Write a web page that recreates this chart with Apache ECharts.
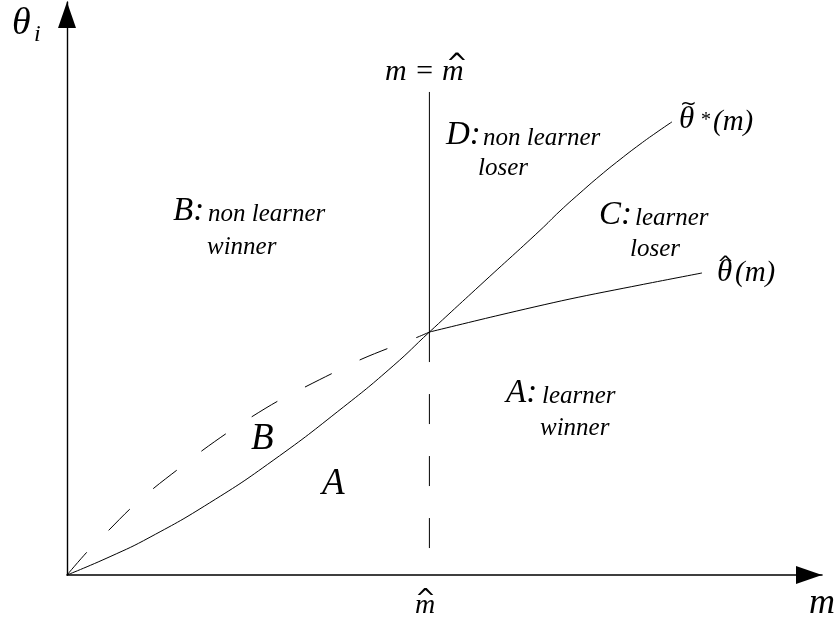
<!DOCTYPE html>
<html>
<head>
<meta charset="utf-8">
<script src="https://cdn.jsdelivr.net/npm/echarts@6/dist/echarts.min.js"></script>
<style>html,body{margin:0;padding:0;background:#fff}#c{width:837px;height:624px}</style>
</head>
<body>
<div id="c"></div>
<script>
// m axis 0..100, theta axis 0..100 (arbitrary units)
const mHat = 48;
// theta tilde star (solid S-shaped curve)
const starM = [0, 5.7, 11.0, 18.9, 27.3, 36.6, 43.2, 48, 55.36, 62.65, 65.30, 67.95, 70.60, 73.25, 75.89, 78.01, 80.13];
const starT = [0, 3.2, 6.6, 12.6, 20.0, 29.3, 36.5, 42.4, 51.34, 60.14, 63.53, 66.67, 69.69, 72.51, 75.17, 77.17, 79.08];
// theta hat, dashed part (m < mHat)
const hatLowM = [0, 2.65, 5.56, 8.34, 11.52, 14.57, 18.01, 21.19, 24.64, 27.95, 31.79, 35.23, 39.07, 42.65, 46.49, 48];
const hatLowT = [0, 4.01, 7.85, 11.52, 15.18, 18.32, 21.81, 24.78, 27.75, 30.37, 32.98, 35.25, 37.70, 39.62, 41.54, 42.4];
// theta hat, solid part (m > mHat)
const hatHighM = [48, 57.35, 66.62, 75.89, 84.11];
const hatHighT = [42.4, 45.38, 48.17, 50.61, 52.71];
// vertical line m = mHat
const vertSolidT = [84.3, 42.4];
const vertDashT = [42.4, 4.7];

const zip = (a, b) => a.map((v, i) => [v, b[i]]);

const FONT = '"Liberation Serif", "DejaVu Serif", serif';
function txtEl(left, baseline, size, str, fam) {
  return {
    type: 'text', z: 100,
    x: left, y: baseline - 0.34 * size,
    style: { text: str, font: (fam ? size + 'px ' + fam : 'italic ' + size + 'px ' + FONT), fill: '#000', align: 'left', verticalAlign: 'middle' }
  };
}
const ACC = '"DejaVu Sans", sans-serif';

const chart = echarts.init(document.getElementById('c'), null, { renderer: 'canvas' });
const lineBase = { type: 'line', showSymbol: false, symbol: 'none', silent: true, animation: false };
chart.setOption({
  animation: false,
  backgroundColor: '#fff',
  grid: { left: 67, right: 15, top: 2, bottom: 49, containLabel: false },
  xAxis: {
    type: 'value', min: 0, max: 100,
    axisLine: { show: true, onZero: false, lineStyle: { color: '#000', width: 1.6 },
      symbol: ['none', 'triangle'], symbolSize: [18, 26], symbolOffset: [0, -13] },
    axisTick: { show: false }, axisLabel: { show: false }, splitLine: { show: false }
  },
  yAxis: {
    type: 'value', min: 0, max: 100,
    axisLine: { show: true, onZero: false, lineStyle: { color: '#000', width: 1.4 },
      symbol: ['none', 'triangle'], symbolSize: [18, 26], symbolOffset: [0, -13] },
    axisTick: { show: false }, axisLabel: { show: false }, splitLine: { show: false }
  },
  series: [
    Object.assign({}, lineBase, { name: 'thetaStar', data: zip(starM, starT), smooth: 0.5,
      lineStyle: { color: '#000', width: 1 } }),
    Object.assign({}, lineBase, { name: 'thetaHatLow', data: zip(hatLowM, hatLowT), smooth: 0.3,
      lineStyle: { color: '#000', width: 1, type: [30, 31] } }),
    Object.assign({}, lineBase, { name: 'thetaHatHigh', data: zip(hatHighM, hatHighT), smooth: 0.3,
      lineStyle: { color: '#000', width: 1 } }),
    Object.assign({}, lineBase, { name: 'vertSolid', data: vertSolidT.map(t => [mHat, t]),
      lineStyle: { color: '#000', width: 1 } }),
    Object.assign({}, lineBase, { name: 'vertDash', data: vertDashT.map(t => [mHat, t]),
      lineStyle: { color: '#000', width: 1, type: [30, 32] } })
  ],
  graphic: [
    txtEl(12, 37, 38, 'θ'),
    txtEl(34, 43, 24, 'i'),
    // m = m-hat
    txtEl(385, 82, 30, 'm = m'),
    txtEl(446, 74, 26, '^', ACC),
    // m-hat under axis
    txtEl(415, 615, 28, 'm'),
    txtEl(415, 608, 25, '^', ACC),
    txtEl(809, 616, 36, 'm'),
    txtEl(173, 223, 33, 'B:'),
    txtEl(208, 223, 25, 'non learner'),
    txtEl(207, 256, 25, 'winner'),
    txtEl(446, 147, 33, 'D:'),
    txtEl(483, 147, 25, 'non learner'),
    txtEl(478, 177, 25, 'loser'),
    txtEl(599, 227, 33, 'C:'),
    txtEl(635, 227, 25, 'learner'),
    txtEl(630, 258, 25, 'loser'),
    txtEl(506, 405, 33, 'A:'),
    txtEl(542, 405, 25, 'learner'),
    txtEl(540, 437, 25, 'winner'),
    txtEl(251, 452, 37, 'B'),
    txtEl(322, 497, 37, 'A'),
    // theta tilde star (m)
    txtEl(679, 130, 31, 'θ'),
    txtEl(680, 112, 20, '~', ACC),
    txtEl(701, 128, 20, '*', '"Liberation Serif", serif'),
    txtEl(713, 132, 29, '(m)'),
    // theta hat (m)
    txtEl(717, 283, 31, 'θ'),
    txtEl(717, 272, 20, '^', ACC),
    txtEl(735, 283, 29, '(m)')
  ]
});
</script>
</body>
</html>
